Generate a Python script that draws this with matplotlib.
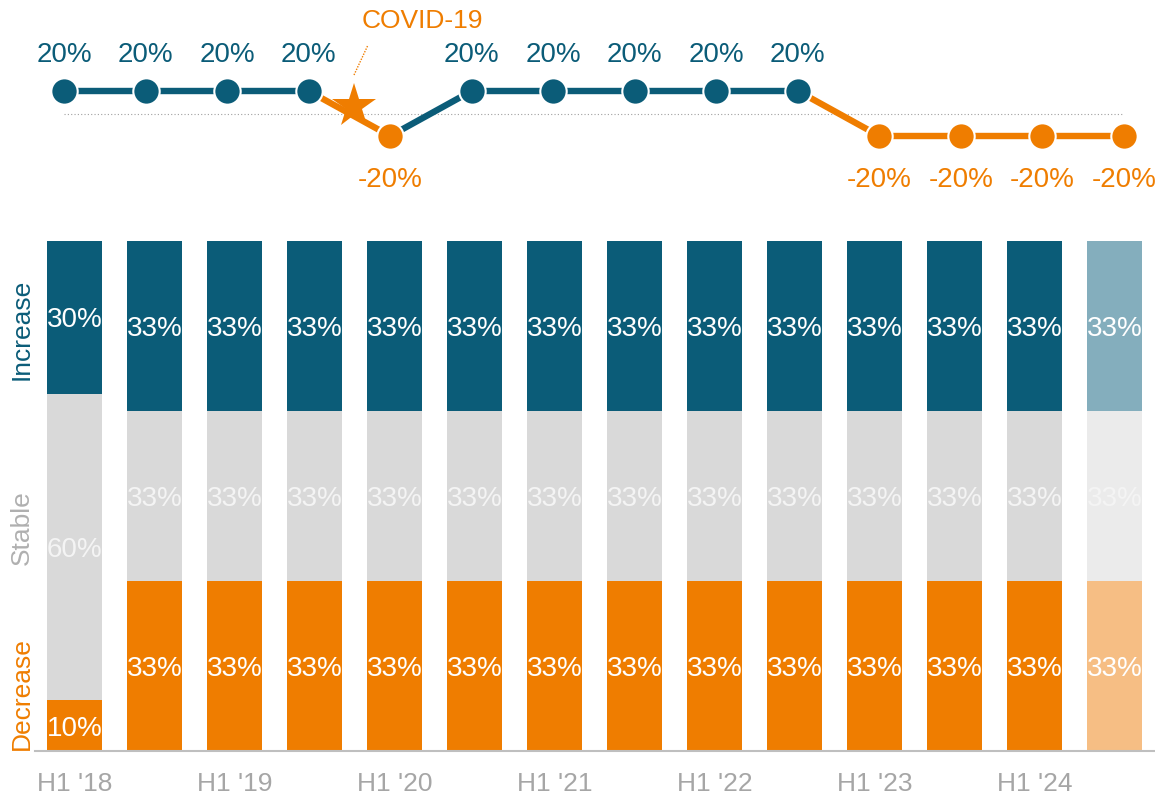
import matplotlib.pyplot as plt
import numpy as np

plt.rcParams['font.family'] = ['Liberation Sans', 'DejaVu Sans']

# top line: net balance per half-year
line_vals = [20, 20, 20, 20, -20, 20, 20, 20, 20, 20, -20, -20, -20, -20]
covid_x = 3.556
covid_y = 6.7

# stacked bars (shares in %)
periods = ["H1 '18", "H2 '18", "H1 '19", "H2 '19", "H1 '20", "H2 '20", "H1 '21",
           "H2 '21", "H1 '22", "H2 '22", "H1 '23", "H2 '23", "H1 '24", "H2 '24"]
decrease = [10] + [33] * 13
stable = [60] + [33] * 13
increase = [30] + [33] * 13

blue = '#0B5C78'
orange = '#EF7D00'
grey = '#D9D9D9'
blue_l = '#84AEBD'
grey_l = '#EBEBEB'
orange_l = '#F6BE84'

W, H = 1155, 796
fig = plt.figure(figsize=(W / 100, H / 100), dpi=100)

# ---------- bars ----------
ax = fig.add_axes([34.5 / W, (H - 751) / H, 1120 / W, 510 / H])
x = np.arange(len(periods))
tot = np.array(decrease) + np.array(stable) + np.array(increase)
d = np.array(decrease) / tot * 100
s = np.array(stable) / tot * 100
i_ = np.array(increase) / tot * 100

cols_d = [orange] * 13 + [orange_l]
cols_s = [grey] * 13 + [grey_l]
cols_i = [blue] * 13 + [blue_l]
bw = 0.69
ax.bar(x, d, bw, color=cols_d)
ax.bar(x, s, bw, bottom=d, color=cols_s)
ax.bar(x, i_, bw, bottom=d + s, color=cols_i)

fs = 20
off = -7.2  # half cap height, so the digits sit centred
for k in x:
    ax.annotate(f'{decrease[k]}%', (k, d[k] / 2), xytext=(0, off), textcoords='offset points',
                ha='center', va='baseline', color='white', fontsize=fs)
    ax.annotate(f'{stable[k]}%', (k, d[k] + s[k] / 2), xytext=(0, off), textcoords='offset points',
                ha='center', va='baseline', color='#F4F4F4', fontsize=fs)
    ax.annotate(f'{increase[k]}%', (k, d[k] + s[k] + i_[k] / 2), xytext=(0, off),
                textcoords='offset points', ha='center', va='baseline', color='white', fontsize=fs)

ax.set_xlim(-0.5, 13.5)
ax.set_ylim(0, 100)
for sp in ['top', 'right', 'left']:
    ax.spines[sp].set_visible(False)
ax.spines['bottom'].set_color('#BFBFBF')
ax.spines['bottom'].set_linewidth(1.5)
ax.set_yticks([])
ax.set_xticks(x[::2])
ax.set_xticklabels(periods[::2])
ax.tick_params(axis='x', length=0, pad=15, labelsize=19, labelcolor='#A6A6A6')

lx = -0.5 - 12.5 / 80
py = lambda p: (751 - p) / 5.1
ax.text(lx, py(329), 'Increase', rotation=90, ha='center', va='center', color=blue, fontsize=19, clip_on=False)
ax.text(lx, py(528), 'Stable', rotation=90, ha='center', va='center', color='#B0B0B0', fontsize=19, clip_on=False)
ax.text(lx, py(750), 'Decrease', rotation=90, ha='center', va='bottom', color=orange, fontsize=19, clip_on=False)

# ---------- top line ----------
top = fig.add_axes([0, 0, 1, 1], facecolor='none')
step = (1124 - 64) / 13
top.set_xlim(-64 / step, (W - 64) / step)
top.set_ylim(-(H - 113.5) / 1.125, 113.5 / 1.125)
top.axis('off')

xs = np.arange(len(line_vals))
top.plot([0, 13], [0, 0], ls=(0, (1, 2)), color='#A0A0A0', lw=0.8, zorder=1)
pcol = [blue if v > 0 else orange for v in line_vals]
for k in range(1, len(line_vals)):
    top.plot(xs[k - 1:k + 1], line_vals[k - 1:k + 1], color=pcol[k], lw=4.6, zorder=2,
             solid_capstyle='butt')
for k, v in enumerate(line_vals):
    top.plot(xs[k], v, 'o', ms=19, color=pcol[k], mec='white', mew=1.5, zorder=3)
    if v > 0:
        top.annotate(f'{v}%', (xs[k], v), xytext=(0, 21), textcoords='offset points',
                     ha='center', va='baseline', color=blue, fontsize=fs)
    else:
        top.annotate(f'{v}%', (xs[k], v), xytext=(0, -37), textcoords='offset points',
                     ha='center', va='baseline', color=orange, fontsize=fs)

top.plot(covid_x, covid_y, '*', ms=33, color=orange, mew=0, zorder=4)
cx0 = (354 - 64) / step
cx1 = (368 - 64) / step
top.plot([cx0, cx1], [(113.5 - 75) / 1.125, (113.5 - 45) / 1.125], ls=(0, (1, 1)),
         color=orange, lw=1, zorder=4)
top.text((422 - 64) / step, (113.5 - 28) / 1.125, 'COVID-19', ha='center', va='baseline',
         color=orange, fontsize=19)

fig.savefig('out.png', dpi=100)
